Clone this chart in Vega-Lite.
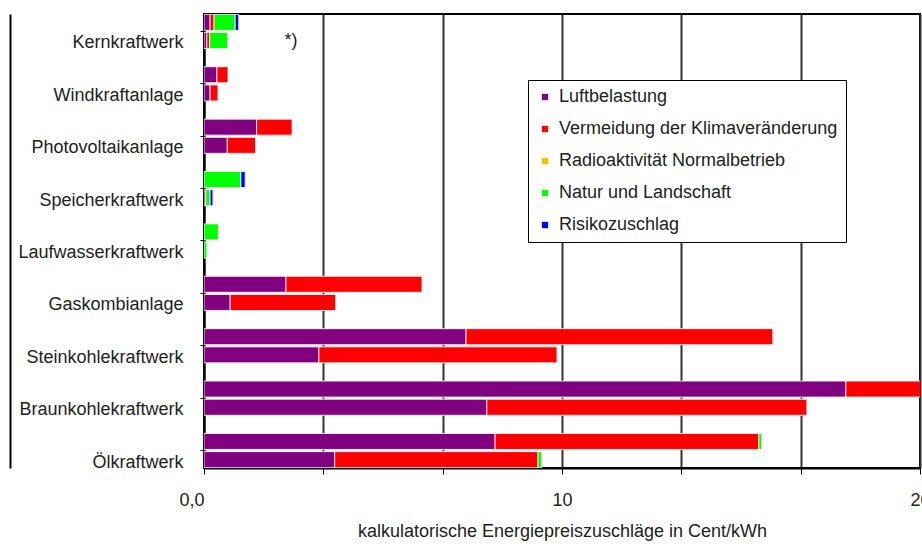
{
  "$schema": "https://vega.github.io/schema/vega-lite/v6.json",
  "width": 716,
  "height": 454,
  "autosize": "none",
  "padding": {"left": 204, "top": 14, "right": 2, "bottom": 82},
  "background": "white",
  "config": {
    "font": "Liberation Sans",
    "view": {"stroke": "black", "strokeWidth": 2}
  },
  "data": {
    "values": [
      {"Kraftwerk": "Kernkraftwerk", "Variante": "oben", "Kategorie": "Luftbelastung", "Nr": 1, "Wert": 0.17},
      {"Kraftwerk": "Kernkraftwerk", "Variante": "oben", "Kategorie": "Vermeidung der Klimaveränderung", "Nr": 2, "Wert": 0.11},
      {"Kraftwerk": "Kernkraftwerk", "Variante": "oben", "Kategorie": "Natur und Landschaft", "Nr": 4, "Wert": 0.59},
      {"Kraftwerk": "Kernkraftwerk", "Variante": "oben", "Kategorie": "Risikozuschlag", "Nr": 5, "Wert": 0.1},
      {"Kraftwerk": "Kernkraftwerk", "Variante": "unten", "Kategorie": "Luftbelastung", "Nr": 1, "Wert": 0.08},
      {"Kraftwerk": "Kernkraftwerk", "Variante": "unten", "Kategorie": "Vermeidung der Klimaveränderung", "Nr": 2, "Wert": 0.08},
      {"Kraftwerk": "Kernkraftwerk", "Variante": "unten", "Kategorie": "Natur und Landschaft", "Nr": 4, "Wert": 0.5},
      {"Kraftwerk": "Windkraftanlage", "Variante": "oben", "Kategorie": "Luftbelastung", "Nr": 1, "Wert": 0.36},
      {"Kraftwerk": "Windkraftanlage", "Variante": "oben", "Kategorie": "Vermeidung der Klimaveränderung", "Nr": 2, "Wert": 0.31},
      {"Kraftwerk": "Windkraftanlage", "Variante": "unten", "Kategorie": "Luftbelastung", "Nr": 1, "Wert": 0.17},
      {"Kraftwerk": "Windkraftanlage", "Variante": "unten", "Kategorie": "Vermeidung der Klimaveränderung", "Nr": 2, "Wert": 0.22},
      {"Kraftwerk": "Photovoltaikanlage", "Variante": "oben", "Kategorie": "Luftbelastung", "Nr": 1, "Wert": 1.47},
      {"Kraftwerk": "Photovoltaikanlage", "Variante": "oben", "Kategorie": "Vermeidung der Klimaveränderung", "Nr": 2, "Wert": 0.99},
      {"Kraftwerk": "Photovoltaikanlage", "Variante": "unten", "Kategorie": "Luftbelastung", "Nr": 1, "Wert": 0.65},
      {"Kraftwerk": "Photovoltaikanlage", "Variante": "unten", "Kategorie": "Vermeidung der Klimaveränderung", "Nr": 2, "Wert": 0.79},
      {"Kraftwerk": "Speicherkraftwerk", "Variante": "oben", "Kategorie": "Natur und Landschaft", "Nr": 4, "Wert": 1.03},
      {"Kraftwerk": "Speicherkraftwerk", "Variante": "oben", "Kategorie": "Risikozuschlag", "Nr": 5, "Wert": 0.12},
      {"Kraftwerk": "Speicherkraftwerk", "Variante": "unten", "Kategorie": "Luftbelastung", "Nr": 1, "Wert": 0.05},
      {"Kraftwerk": "Speicherkraftwerk", "Variante": "unten", "Kategorie": "Natur und Landschaft", "Nr": 4, "Wert": 0.12},
      {"Kraftwerk": "Speicherkraftwerk", "Variante": "unten", "Kategorie": "Risikozuschlag", "Nr": 5, "Wert": 0.08},
      {"Kraftwerk": "Laufwasserkraftwerk", "Variante": "oben", "Kategorie": "Natur und Landschaft", "Nr": 4, "Wert": 0.4},
      {"Kraftwerk": "Laufwasserkraftwerk", "Variante": "unten", "Kategorie": "Natur und Landschaft", "Nr": 4, "Wert": 0.08},
      {"Kraftwerk": "Gaskombianlage", "Variante": "oben", "Kategorie": "Luftbelastung", "Nr": 1, "Wert": 2.29},
      {"Kraftwerk": "Gaskombianlage", "Variante": "oben", "Kategorie": "Vermeidung der Klimaveränderung", "Nr": 2, "Wert": 3.8},
      {"Kraftwerk": "Gaskombianlage", "Variante": "unten", "Kategorie": "Luftbelastung", "Nr": 1, "Wert": 0.73},
      {"Kraftwerk": "Gaskombianlage", "Variante": "unten", "Kategorie": "Vermeidung der Klimaveränderung", "Nr": 2, "Wert": 2.95},
      {"Kraftwerk": "Steinkohlekraftwerk", "Variante": "oben", "Kategorie": "Luftbelastung", "Nr": 1, "Wert": 7.32},
      {"Kraftwerk": "Steinkohlekraftwerk", "Variante": "oben", "Kategorie": "Vermeidung der Klimaveränderung", "Nr": 2, "Wert": 8.57},
      {"Kraftwerk": "Steinkohlekraftwerk", "Variante": "unten", "Kategorie": "Luftbelastung", "Nr": 1, "Wert": 3.21},
      {"Kraftwerk": "Steinkohlekraftwerk", "Variante": "unten", "Kategorie": "Vermeidung der Klimaveränderung", "Nr": 2, "Wert": 6.65},
      {"Kraftwerk": "Braunkohlekraftwerk", "Variante": "oben", "Kategorie": "Luftbelastung", "Nr": 1, "Wert": 17.93},
      {"Kraftwerk": "Braunkohlekraftwerk", "Variante": "oben", "Kategorie": "Vermeidung der Klimaveränderung", "Nr": 2, "Wert": 2.5},
      {"Kraftwerk": "Braunkohlekraftwerk", "Variante": "unten", "Kategorie": "Luftbelastung", "Nr": 1, "Wert": 7.9},
      {"Kraftwerk": "Braunkohlekraftwerk", "Variante": "unten", "Kategorie": "Vermeidung der Klimaveränderung", "Nr": 2, "Wert": 8.94},
      {"Kraftwerk": "Ölkraftwerk", "Variante": "oben", "Kategorie": "Luftbelastung", "Nr": 1, "Wert": 8.13},
      {"Kraftwerk": "Ölkraftwerk", "Variante": "oben", "Kategorie": "Vermeidung der Klimaveränderung", "Nr": 2, "Wert": 7.37},
      {"Kraftwerk": "Ölkraftwerk", "Variante": "oben", "Kategorie": "Natur und Landschaft", "Nr": 4, "Wert": 0.08},
      {"Kraftwerk": "Ölkraftwerk", "Variante": "unten", "Kategorie": "Luftbelastung", "Nr": 1, "Wert": 3.65},
      {"Kraftwerk": "Ölkraftwerk", "Variante": "unten", "Kategorie": "Vermeidung der Klimaveränderung", "Nr": 2, "Wert": 5.68},
      {"Kraftwerk": "Ölkraftwerk", "Variante": "unten", "Kategorie": "Natur und Landschaft", "Nr": 4, "Wert": 0.1}
    ]
  },
  "layer": [
    {
      "mark": {"type": "bar", "clip": true, "stroke": "white", "strokeWidth": 1, "strokeOpacity": 0.8},
      "encoding": {
        "y": {
          "field": "Kraftwerk",
          "type": "nominal",
          "sort": ["Kernkraftwerk", "Windkraftanlage", "Photovoltaikanlage", "Speicherkraftwerk", "Laufwasserkraftwerk", "Gaskombianlage", "Steinkohlekraftwerk", "Braunkohlekraftwerk", "Ölkraftwerk"],
          "scale": {"paddingInner": 0.3333, "paddingOuter": 0},
          "axis": {
            "title": null,
            "domainColor": "black",
            "domainWidth": 2,
            "tickColor": "black",
            "tickSize": 4,
            "labelFontSize": 18,
            "labelColor": "#222222",
            "labelPadding": 17,
            "labelOffset": 12,
            "labelLimit": 300
          }
        },
        "yOffset": {"field": "Variante", "type": "nominal", "sort": ["oben", "unten"], "scale": {"paddingInner": 0.12, "paddingOuter": 0.02}},
        "x": {
          "field": "Wert",
          "type": "quantitative",
          "stack": "zero",
          "scale": {"domain": [0, 20], "nice": false},
          "axis": {
            "title": "kalkulatorische Energiepreiszuschläge in Cent/kWh",
            "values": [0, 3.3333, 6.6667, 10, 13.3333, 16.6667, 20],
            "labelExpr": "datum.value == 0 ? '0,0' : (datum.value == 10 ? '10' : (datum.value == 20 ? '20' : ''))",
            "labelAlign": {"condition": {"test": "datum.value == 0", "value": "right"}, "value": "center"},
            "labelFlush": false,
            "labelOverlap": false,
            "grid": true,
            "gridColor": "#333333",
            "gridWidth": 2,
            "domainColor": "black",
            "domainWidth": 2,
            "tickColor": "black",
            "tickSize": 6,
            "labelFontSize": 18,
            "labelColor": "#222222",
            "labelPadding": 17,
            "titleFontSize": 18,
            "titleFontWeight": "normal",
            "titleColor": "#222222",
            "titlePadding": 13
          }
        },
        "color": {
          "field": "Kategorie",
          "type": "nominal",
          "scale": {
            "domain": ["Luftbelastung", "Vermeidung der Klimaveränderung", "Radioaktivität Normalbetrieb", "Natur und Landschaft", "Risikozuschlag"],
            "range": ["#800080", "#FF0000", "#FFC000", "#00FF00", "#0000FF"]
          },
          "legend": {
            "orient": "none",
            "legendX": 324,
            "legendY": 66,
            "title": null,
            "symbolType": "square",
            "symbolSize": 40,
            "symbolStrokeWidth": 0,
            "labelFontSize": 18,
            "labelColor": "#222222",
            "labelLimit": 400,
            "labelOffset": 5,
            "strokeColor": "black",
            "fillColor": "white",
            "padding": 8,
            "rowPadding": 14
          }
        },
        "order": {"field": "Nr", "type": "quantitative"}
      }
    },
    {
      "data": {"values": [{"Kraftwerk": "Kernkraftwerk", "Wert": 2.43, "Text": "*)"}]},
      "mark": {"type": "text", "fontSize": 18, "dy": 10, "color": "#222222"},
      "encoding": {
        "y": {
          "field": "Kraftwerk",
          "type": "nominal",
          "sort": ["Kernkraftwerk", "Windkraftanlage", "Photovoltaikanlage", "Speicherkraftwerk", "Laufwasserkraftwerk", "Gaskombianlage", "Steinkohlekraftwerk", "Braunkohlekraftwerk", "Ölkraftwerk"],
          "axis": {
            "orient": "left",
            "offset": 194,
            "labels": false,
            "ticks": false,
            "title": null,
            "domainColor": "black",
            "domainWidth": 2
          }
        },
        "x": {"field": "Wert", "type": "quantitative"},
        "text": {"field": "Text"}
      }
    }
  ],
  "resolve": {"axis": {"y": "independent"}}
}
